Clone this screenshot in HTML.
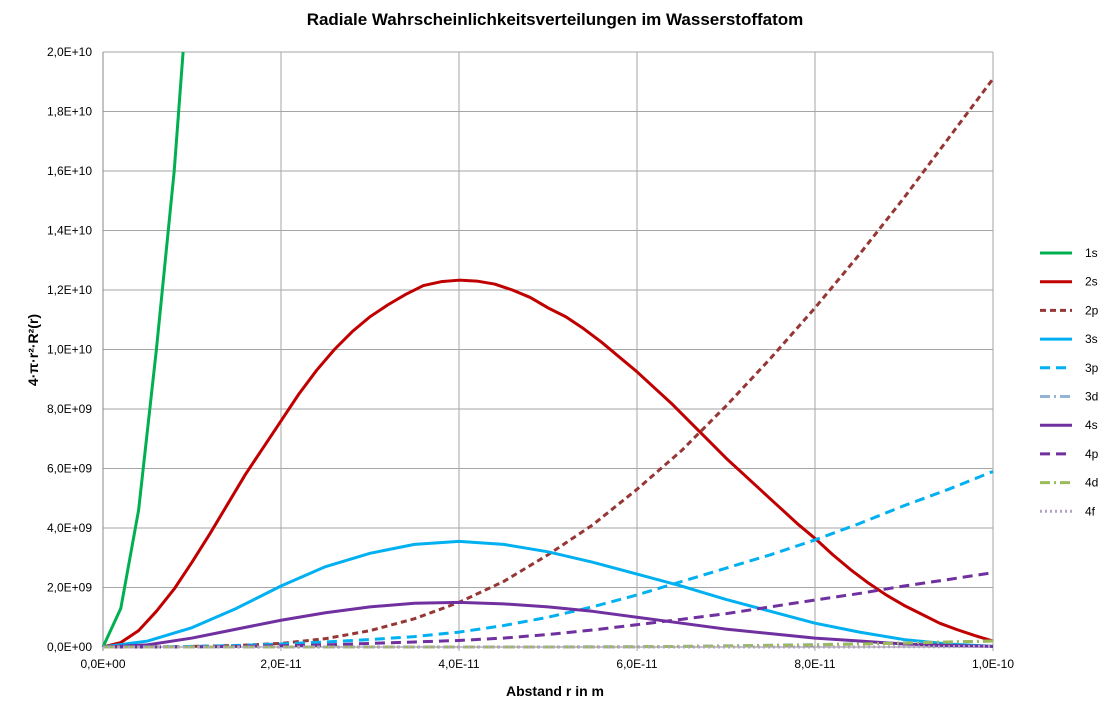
<!DOCTYPE html>
<html><head><meta charset="utf-8"><style>
body{margin:0;background:#fff;font-family:"Liberation Sans",Arial,sans-serif}
svg text{font-family:"Liberation Sans",Arial,sans-serif}
</style></head><body>
<svg id="c" width="1112" height="720">
<text x="555" y="25" text-anchor="middle" font-size="17" font-weight="bold">Radiale Wahrscheinlichkeitsverteilungen im Wasserstoffatom</text>
<text x="555" y="696" text-anchor="middle" font-size="14" font-weight="bold">Abstand r in m</text>
<text transform="translate(38,350) rotate(-90)" text-anchor="middle" font-size="14" font-weight="bold">4·π·r²·R²(r)</text>
<g id="grid"></g><g id="series"></g><g id="legend"></g>
</svg>
<script>
const xTickLabels=["0,0E+00","2,0E-11","4,0E-11","6,0E-11","8,0E-11","1,0E-10"];
const yTickLabels=["0,0E+00","2,0E+09","4,0E+09","6,0E+09","8,0E+09","1,0E+10","1,2E+10","1,4E+10","1,6E+10","1,8E+10","2,0E+10"];
const r1s=[0,0.2,0.4,0.6,0.8,0.9];
const v1s=[0,1.3,4.6,10,16,20];
const r2s=[0,0.2,0.4,0.6,0.8,1.0,1.2,1.4,1.6,1.8,2.0,2.2,2.4,2.6,2.8,3.0,3.2,3.4,3.6,3.8,4.0,4.2,4.4,4.6,4.8,5.0,5.2,5.4,5.6,5.8,6.0,6.2,6.4,6.6,6.8,7.0,7.2,7.4,7.6,7.8,8.0,8.2,8.4,8.6,8.8,9.0,9.2,9.4,9.6,9.8,10];
const v2s=[0,0.15,0.55,1.2,1.95,2.85,3.8,4.8,5.8,6.7,7.6,8.5,9.3,10.0,10.6,11.1,11.5,11.85,12.15,12.28,12.33,12.3,12.2,12.0,11.75,11.4,11.1,10.7,10.25,9.75,9.25,8.7,8.15,7.55,6.95,6.35,5.8,5.25,4.7,4.15,3.65,3.1,2.6,2.15,1.75,1.4,1.1,0.8,0.58,0.38,0.2];
const rStd=[0,0.5,1,1.5,2,2.5,3,3.5,4,4.5,5,5.5,6,6.5,7,7.5,8,8.5,9,9.5,10];
const v2p=[0,0,0.02,0.05,0.12,0.28,0.55,0.95,1.5,2.2,3.1,4.1,5.3,6.6,8.1,9.7,11.4,13.2,15.1,17.1,19.1];
const v3s=[0,0.2,0.65,1.3,2.05,2.7,3.15,3.45,3.55,3.45,3.2,2.85,2.45,2.05,1.6,1.2,0.8,0.5,0.25,0.1,0.02];
const v3p=[0,0,0.02,0.05,0.1,0.17,0.25,0.35,0.5,0.72,1.0,1.35,1.75,2.2,2.65,3.1,3.6,4.15,4.75,5.3,5.9];
const v3d=[0,0,0,0,0,0,0,0,0,0,0,0.01,0.01,0.02,0.04,0.06,0.08,0.11,0.14,0.17,0.2];
const v4s=[0,0.07,0.3,0.6,0.9,1.15,1.35,1.47,1.5,1.45,1.35,1.2,1.0,0.8,0.6,0.45,0.3,0.2,0.1,0.05,0.02];
const v4p=[0,0,0,0.02,0.04,0.07,0.12,0.17,0.22,0.3,0.42,0.57,0.75,0.93,1.12,1.35,1.58,1.8,2.05,2.27,2.5];
const v4d=[0,0,0,0,0,0,0,0,0,0,0,0,0.01,0.02,0.03,0.05,0.07,0.1,0.13,0.17,0.2];
const v4f=[0,0,0,0,0,0,0,0,0,0,0,0,0,0,0,0,0,0,0.01,0.01,0.02];
const NS="http://www.w3.org/2000/svg";
const X0=103,X1=993,Y0=647,Y1=52;
const xs=r=>X0+(r/10)*(X1-X0);
const ys=v=>Y0-(v/20)*(Y0-Y1);
function mk(t,a,p){const e=document.createElementNS(NS,t);for(const k in a)e.setAttribute(k,a[k]);p.appendChild(e);return e;}
const grid=document.getElementById('grid');
yTickLabels.forEach((l,i)=>{const y=ys(i*2);
const ln=mk('line',{x1:X0,x2:X1,y1:y,y2:y,stroke:i==0?'#888':'#a6a6a6','stroke-width':1},grid);


const t=mk('text',{x:92,y:y+4,'text-anchor':'end','font-size':12},grid);t.textContent=l;

});
xTickLabels.forEach((l,i)=>{const x=xs(i*2);
const ln=mk('line',{x1:x,x2:x,y1:Y1,y2:Y0+4,stroke:i==0?'#888':'#a6a6a6','stroke-width':1},grid);


const t=mk('text',{x:x,y:668,'text-anchor':'middle','font-size':12},grid);t.textContent=l;

});
const series=[
["1s",r1s,v1s,"#00b050",""],
["2s",r2s,v2s,"#c00000",""],
["2p",rStd,v2p,"#953735","6,4"],
["3s",rStd,v3s,"#00b0f0",""],
["3p",rStd,v3p,"#00b0f0","10,6"],
["3d",rStd,v3d,"#95b3d7","10,4,2,4"],
["4s",rStd,v4s,"#7030a0",""],
["4p",rStd,v4p,"#7030a0","10,6"],
["4d",rStd,v4d,"#9bbb59","10,4,2,4"],
["4f",rStd,v4f,"#b3a2c7","2,3"]];
const sg=document.getElementById('series'),lg=document.getElementById('legend');
series.forEach((s,i)=>{
const pts=s[1].map((r,j)=>xs(r)+','+ys(s[2][j])).join(' ');
const p=mk('polyline',{points:pts,fill:'none',stroke:s[3],'stroke-width':3,'stroke-dasharray':s[4],'stroke-linejoin':'round'},sg);


const ly=253+i*28.7;
const l=mk('line',{x1:1040,x2:1072,y1:ly,y2:ly,stroke:s[3],'stroke-width':3,'stroke-dasharray':s[4]},lg);


const t=mk('text',{x:1085,y:ly+4,'font-size':12},lg);t.textContent=s[0];


});
</script>
</body></html>
